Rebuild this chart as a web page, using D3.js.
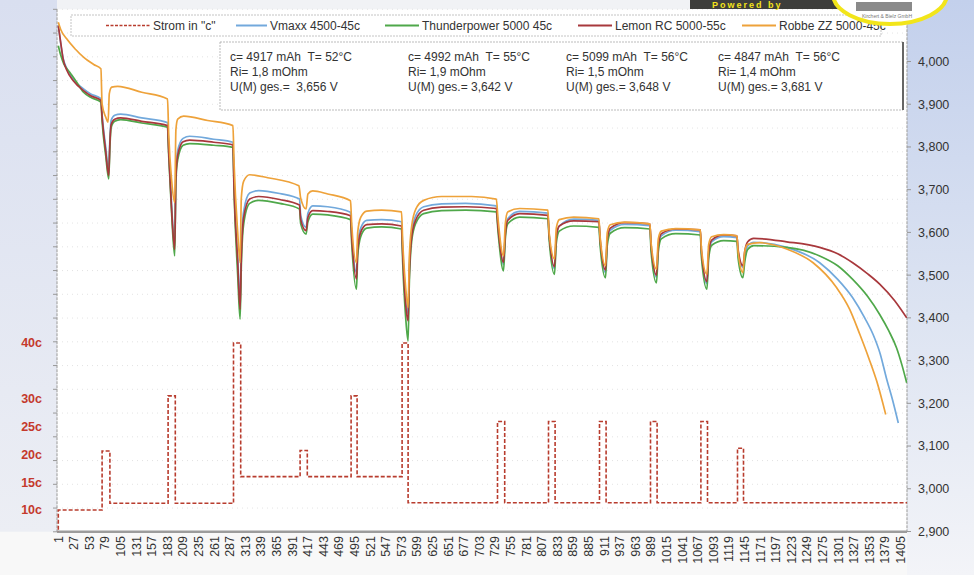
<!DOCTYPE html>
<html><head><meta charset="utf-8">
<script src="https://cdn.jsdelivr.net/npm/d3@7"></script>
<style>
html,body{margin:0;padding:0;background:#fff;}
svg{display:block;font-family:"Liberation Sans Narrow","Arial Narrow","Liberation Sans",Arial,sans-serif;}
</style></head><body>
<svg id="c" width="974" height="575"></svg>
<script>
// ---------- DATA ----------
const legendLabels = ['Strom in "c"', "Vmaxx 4500-45c", "Thunderpower 5000 45c", "Lemon RC 5000-55c", "Robbe ZZ 5000-45c"];
const seriesColors = ["#b83c2e", "#72a9dc", "#4fa84a", "#a8383c", "#eea23a"];

const infoC  = ["c= 4917 mAh  T= 52°C", "c= 4992 mAh  T= 55°C", "c= 5099 mAh  T= 56°C", "c= 4847 mAh  T= 56°C"];
const infoRi = ["Ri= 1,8 mOhm", "Ri= 1,9 mOhm", "Ri= 1,5 mOhm", "Ri= 1,4 mOhm"];
const infoU  = ["U(M) ges.=  3,656 V", "U(M) ges.= 3,642 V", "U(M) ges.= 3,648 V", "U(M) ges.= 3,681 V"];

const xTickValues = [1,27,53,79,105,131,157,183,209,235,261,287,313,339,365,391,417,443,469,495,521,547,573,599,625,651,677,703,729,755,781,807,833,859,885,911,937,963,989,1015,1041,1067,1093,1119,1145,1171,1197,1223,1249,1275,1301,1327,1353,1379,1405];
const voltTicks = [2900,3000,3100,3200,3300,3400,3500,3600,3700,3800,3900,4000];
const voltTickLabels = ["2,900","3,000","3,100","3,200","3,300","3,400","3,500","3,600","3,700","3,800","3,900","4,000"];
const cLabelValues = [10, 15, 20, 25, 30, 40];
const cLabelText = ["10c", "15c", "20c", "25c", "30c", "40c"];
const gridTicks = [0,1,2,3,4,5,6,7,8,9,10,11,12,13,14,15,16,17,18,19,20,21,22];

// current (in c), step changes: index and value
const currentIdx = [1, 1, 74, 87, 184, 196, 293, 305, 404, 416, 489, 499, 574, 584, 733, 745, 818, 829, 903, 914, 988, 999, 1072, 1083, 1133, 1143, 1416];
const currentC   = [0, 10, 20.6, 11.2, 30.5, 11.2, 40, 16, 20.7, 16, 30.5, 16, 40, 11.3, 25.9, 11.3, 25.9, 11.3, 25.9, 11.3, 25.9, 11.3, 25.9, 11.3, 21.1, 11.3, 11.3];

// voltage (mV) pairs [index, mV]
const vmaxxV = [[1,4085],[5,4042],[9,4008],[15,3984],[26,3958],[43,3936],[55,3924],[72,3913],
[74,3875],[80,3800],[85,3745],[87,3820],[89,3862],[95,3874],[105,3877],[140,3868],[183,3857],
[185,3800],[190,3660],[195,3568],[197,3745],[200,3792],[209,3820],[220,3825],[260,3818],[292,3811],
[294,3715],[300,3545],[304,3436],[306,3560],[310,3650],[320,3692],[335,3698],[370,3691],[403,3678],
[405,3640],[414,3612],[417,3645],[425,3662],[450,3660],[488,3647],
[490,3600],[498,3506],[500,3570],[505,3610],[515,3628],[540,3630],[573,3625],
[575,3560],[580,3450],[584,3410],[586,3515],[590,3600],[597,3640],[610,3660],[640,3667],[680,3668],[731,3662],
[734,3615],[743,3525],[746,3598],[750,3632],[770,3649],[817,3645],
[819,3598],[828,3515],[831,3585],[836,3615],[860,3631],[902,3628],
[904,3580],[913,3506],[916,3580],[921,3605],[945,3619],[987,3616],
[989,3565],[998,3495],[1001,3565],[1006,3592],[1030,3605],[1071,3602],
[1073,3550],[1082,3480],[1085,3550],[1090,3578],[1110,3590],[1132,3588],
[1134,3555],[1142,3518],[1145,3540],[1150,3568],[1160,3577],[1215,3565],[1270,3529],[1300,3490],[1325,3447],[1345,3400],[1359,3361],[1371,3315],[1381,3260],[1392,3205],[1401,3154]];

const thunderV = [[1,4037],[5,4015],[10,3995],[20,3975],[30,3955],[43,3928],[55,3916],[72,3905],
[74,3860],[80,3780],[85,3725],[87,3800],[89,3845],[95,3860],[105,3864],[140,3856],[183,3846],
[185,3780],[190,3640],[195,3545],[197,3720],[200,3770],[209,3804],[220,3808],[260,3804],[292,3799],
[294,3690],[300,3500],[304,3397],[306,3520],[310,3620],[320,3668],[335,3675],[370,3668],[403,3655],
[405,3620],[414,3596],[417,3625],[425,3643],[450,3641],[488,3630],
[490,3575],[498,3467],[500,3545],[505,3590],[515,3610],[540,3613],[573,3608],
[575,3530],[580,3400],[584,3346],[586,3480],[590,3580],[597,3622],[610,3644],[640,3651],[680,3652],[731,3648],
[734,3600],[743,3510],[746,3585],[750,3620],[770,3636],[817,3632],
[819,3585],[828,3502],[831,3575],[836,3603],[860,3615],[902,3612],
[904,3570],[913,3494],[916,3570],[921,3598],[945,3611],[987,3608],
[989,3555],[998,3482],[1001,3555],[1006,3585],[1030,3597],[1071,3594],
[1073,3540],[1082,3467],[1085,3540],[1090,3570],[1110,3581],[1132,3579],
[1134,3540],[1142,3494],[1145,3530],[1150,3560],[1160,3569],[1215,3565],[1270,3545],[1300,3522],[1325,3490],[1350,3450],[1370,3408],[1385,3370],[1398,3330],[1407,3290],[1415,3248]];

const lemonV = [[1,4084],[5,4045],[9,4006],[15,3980],[26,3955],[43,3932],[55,3920],[72,3909],
[74,3870],[80,3790],[85,3733],[87,3810],[89,3852],[95,3865],[105,3868],[140,3860],[183,3850],
[185,3790],[190,3650],[195,3560],[197,3730],[200,3780],[209,3812],[220,3816],[260,3811],[292,3805],
[294,3700],[300,3530],[304,3420],[306,3540],[310,3635],[320,3678],[335,3684],[370,3677],[403,3664],
[405,3630],[414,3604],[417,3635],[425,3651],[450,3649],[488,3639],
[490,3590],[498,3491],[500,3560],[505,3600],[515,3618],[540,3620],[573,3615],
[575,3550],[580,3430],[584,3393],[586,3500],[590,3590],[597,3630],[610,3652],[640,3659],[680,3660],[731,3656],
[734,3610],[743,3530],[746,3595],[750,3628],[770,3644],[817,3640],
[819,3595],[828,3520],[831,3590],[836,3615],[860,3627],[902,3625],
[904,3585],[913,3512],[916,3585],[921,3610],[945,3623],[987,3620],
[989,3570],[998,3500],[1001,3570],[1006,3597],[1030,3608],[1071,3606],
[1073,3555],[1082,3485],[1085,3555],[1090,3582],[1110,3594],[1132,3592],
[1134,3560],[1142,3522],[1145,3555],[1150,3578],[1160,3586],[1215,3578],[1270,3565],[1300,3550],[1325,3529],[1350,3503],[1370,3479],[1395,3440],[1415,3400]];

const robbeV = [[1,4092],[5,4075],[15,4053],[30,4028],[43,4010],[60,3993],[72,3983],
[74,3900],[80,3870],[84,3858],[86,3925],[90,3940],[100,3942],[140,3928],[183,3912],
[185,3830],[190,3720],[195,3670],[197,3840],[200,3865],[210,3872],[250,3862],[292,3850],
[294,3760],[300,3600],[304,3529],[306,3680],[310,3720],[320,3735],[350,3728],[402,3709],
[405,3680],[414,3655],[417,3690],[425,3697],[450,3690],[488,3674],
[490,3620],[498,3529],[500,3600],[505,3635],[515,3650],[540,3652],[573,3648],
[575,3580],[580,3470],[584,3424],[586,3540],[590,3615],[597,3655],[610,3675],[640,3684],[690,3684],[731,3678],
[734,3630],[743,3545],[746,3620],[750,3648],[770,3656],[817,3652],
[819,3600],[828,3538],[831,3610],[836,3630],[860,3636],[902,3632],
[904,3590],[913,3522],[916,3600],[921,3618],[945,3624],[987,3620],
[989,3575],[998,3514],[1001,3585],[1006,3603],[1030,3609],[1071,3606],
[1073,3560],[1082,3502],[1085,3572],[1090,3590],[1110,3595],[1132,3592],
[1134,3555],[1142,3506],[1145,3555],[1150,3572],[1170,3576],[1215,3561],[1259,3529],[1298,3471],[1320,3420],[1337,3361],[1352,3305],[1365,3252],[1380,3174]];

// ---------- CHART ----------
const svg = d3.select("#c");
const P = {l: 57, r: 907, t: 9.3, b: 531.8};

const x = d3.scaleLinear().domain([1, 1405]).range([58.3, 900.7]);
const v = d3.scaleLinear().domain([2900, 4000]).range([531.5, 61.5]);
const cS = d3.scaleLinear().domain([10, 40]).range([510, 343]);
const g = d3.scaleLinear().domain([0, 22]).range([P.b, P.t]);

const defs = svg.append("defs");
const rg = defs.append("linearGradient").attr("id","rg").attr("x1",0).attr("y1",0).attr("x2",0).attr("y2",1);
rg.append("stop").attr("offset","0").attr("stop-color","#c3d0ec");
rg.append("stop").attr("offset","0.55").attr("stop-color","#dde4f2");
rg.append("stop").attr("offset","1").attr("stop-color","#f3f4f8");
const lg = defs.append("linearGradient").attr("id","lg").attr("x1",0).attr("y1",0).attr("x2",0).attr("y2",1);
lg.append("stop").attr("offset","0").attr("stop-color","#d9dff0");
lg.append("stop").attr("offset","1").attr("stop-color","#eceef4");
defs.append("clipPath").attr("id","clip").append("rect")
  .attr("x",P.l).attr("y",P.t).attr("width",P.r-P.l).attr("height",P.b-P.t);

// backgrounds
svg.append("rect").attr("width",974).attr("height",575).attr("fill","#f1f2f5");
svg.append("rect").attr("x",0).attr("y",0).attr("width",P.l).attr("height",P.b).attr("fill","url(#lg)");
svg.append("rect").attr("x",P.r).attr("y",0).attr("width",974-P.r).attr("height",575).attr("fill","url(#rg)");
svg.append("rect").attr("x",0).attr("y",P.b).attr("width",P.r).attr("height",575-P.b).attr("fill","#f8f8f8");
svg.append("rect").attr("x",P.l).attr("y",P.t).attr("width",P.r-P.l).attr("height",P.b-P.t).attr("fill","#ffffff");

// gridlines
svg.append("g").selectAll("line").data(gridTicks.slice(1)).join("line")
  .attr("x1",P.l).attr("x2",P.r).attr("y1",d=>g(d)).attr("y2",d=>g(d))
  .attr("stroke","#dcdcdc").attr("stroke-width",0.8).attr("stroke-dasharray","1,4");

// left axis
svg.append("line").attr("x1",P.l).attr("x2",P.l).attr("y1",P.t).attr("y2",P.b)
  .attr("stroke","#a8a8a8").attr("stroke-width",1.2).attr("stroke-dasharray","3,1");
svg.append("g").selectAll("line").data(gridTicks).join("line")
  .attr("x1",P.l-4).attr("x2",P.l).attr("y1",d=>g(d)).attr("y2",d=>g(d))
  .attr("stroke","#999").attr("stroke-width",1);

// right axis
svg.append("line").attr("x1",P.r).attr("x2",P.r).attr("y1",P.t).attr("y2",P.b)
  .attr("stroke","#a8a8a8").attr("stroke-width",1.2).attr("stroke-dasharray","3,1");
svg.append("g").selectAll("line").data(voltTicks).join("line")
  .attr("x1",P.r).attr("x2",P.r+4).attr("y1",d=>v(d)).attr("y2",d=>v(d))
  .attr("stroke","#999").attr("stroke-width",1);
svg.append("g").selectAll("text").data(voltTicks).join("text")
  .attr("x",918).attr("y",d=>v(d)).attr("dy","0.35em")
  .attr("font-size",12.5).attr("fill","#333")
  .text((d,i)=>voltTickLabels[i]);

// bottom axis
svg.append("line").attr("x1",P.l).attr("x2",P.r).attr("y1",P.b).attr("y2",P.b)
  .attr("stroke","#9c9c9c").attr("stroke-width",2.6);
svg.append("g").selectAll("text").data(xTickValues).join("text")
  .attr("transform",d=>`translate(${x(d)},536) rotate(-90)`)
  .attr("text-anchor","end").attr("dy","0.35em")
  .attr("font-size",12.5).attr("fill","#333")
  .text(d=>d);

// left c labels
svg.append("g").selectAll("text").data(cLabelValues).join("text")
  .attr("x",42).attr("y",d=>cS(d)).attr("dy","0.35em").attr("text-anchor","end")
  .attr("font-size",12.5).attr("font-weight","bold").attr("fill","#c4392c")
  .text((d,i)=>cLabelText[i]);

// data lines
const plot = svg.append("g").attr("clip-path","url(#clip)");
const curLine = d3.line().x((d,i)=>x(currentIdx[i])).y(d=>cS(d)).curve(d3.curveStepAfter);
plot.append("path").attr("d",curLine(currentC)).attr("fill","none")
  .attr("stroke",seriesColors[0]).attr("stroke-width",1.6).attr("stroke-dasharray","4,2");

const vLine = d3.line().x(d=>x(d[0])).y(d=>v(d[1])).curve(d3.curveMonotoneX);
[vmaxxV, thunderV, lemonV, robbeV].forEach((s,i)=>{
  plot.append("path").attr("d",vLine(s)).attr("fill","none")
    .attr("stroke",seriesColors[i+1]).attr("stroke-width",1.7).attr("stroke-linejoin","round");
});

// legend box
svg.append("rect").attr("x",71).attr("y",15).attr("width",810).attr("height",21)
  .attr("fill","#fff").attr("stroke","#b5b5b5").attr("stroke-width",0.8).attr("stroke-dasharray","2,1");
const legX = [106, 236, 385, 578, 742];
const legW = [44, 31, 34, 34, 34];
legendLabels.forEach((t,i)=>{
  svg.append("line").attr("x1",legX[i]).attr("x2",legX[i]+legW[i]).attr("y1",25.5).attr("y2",25.5)
    .attr("stroke",seriesColors[i]).attr("stroke-width",i===0?1.5:2)
    .attr("stroke-dasharray",i===0?"3,1.5":null);
  svg.append("text").attr("x",legX[i]+legW[i]+3).attr("y",25.5).attr("dy","0.35em")
    .attr("font-size",12).attr("fill","#333").text(t);
});

// info box
svg.append("rect").attr("x",220).attr("y",42).attr("width",683).attr("height",68)
  .attr("fill","#fff").attr("stroke","#aaa").attr("stroke-width",0.8).attr("stroke-dasharray","2,1");
svg.append("line").attr("x1",903).attr("x2",903).attr("y1",42).attr("y2",110)
  .attr("stroke","#666").attr("stroke-width",2);
const colX = [230, 408, 566, 718];
[infoC, infoRi, infoU].forEach((row,r)=>{
  row.forEach((t,i)=>{
    svg.append("text").attr("x",colX[i]).attr("y",57+r*15).attr("dy","0.35em")
      .attr("font-size",12).attr("fill","#333").style("white-space","pre").text(t);
  });
});

// logo (top right)
svg.append("rect").attr("x",690).attr("y",0).attr("width",155).attr("height",9).attr("fill","#3d3d3b");
svg.append("text").attr("x",712).attr("y",8).attr("font-size",9).attr("font-weight","bold")
  .attr("letter-spacing",2).attr("fill","#f3e21a").text("Powered by");
svg.append("ellipse").attr("cx",890).attr("cy",-6).attr("rx",57).attr("ry",30)
  .attr("fill","#fff").attr("stroke","#f2e51a").attr("stroke-width",4);
svg.append("rect").attr("x",856).attr("y",2).attr("width",56).attr("height",9).attr("fill","#8a8a8a");
svg.append("text").attr("x",862).attr("y",18).attr("font-size",5).attr("fill","#777").text("Kirchert & Bielz GmbH");
</script>
</body></html>
